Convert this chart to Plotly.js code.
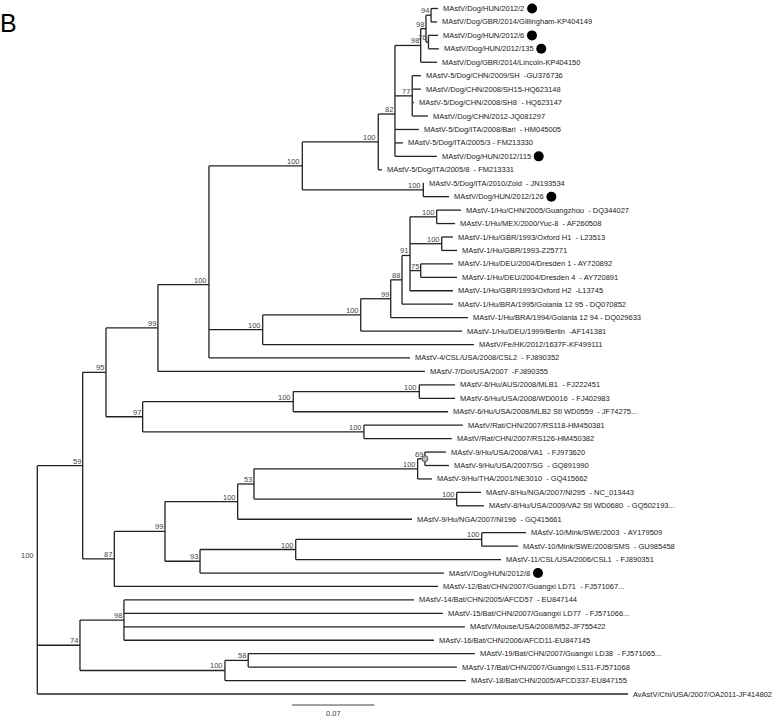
<!DOCTYPE html>
<html>
<head>
<meta charset="utf-8">
<script src="https://cdn.plot.ly/plotly-3.0.1.min.js"></script>
<style>html,body{margin:0;padding:0;background:#fff}</style>
</head>
<body>
<div id="chart" style="width:777px;height:719px"></div>
<script>
// ---- DATA ----
const tipLabels = [
"MAstV/Dog/HUN/2012/2",
"MAstV/Dog/GBR/2014/Gillingham-KP404149",
"MAstV/Dog/HUN/2012/6",
"MAstV/Dog/HUN/2012/135",
"MAstV/Dog/GBR/2014/Lincoln-KP404150",
"MAstV-5/Dog/CHN/2009/SH  -GU376736",
"MAstV/Dog/CHN/2008/SH15-HQ623148",
"MAstV-5/Dog/CHN/2008/SH8  - HQ623147",
"MAstV/Dog/CHN/2012-JQ081297",
"MAstV-5/Dog/ITA/2008/Bari  - HM045005",
"MAstV-5/Dog/ITA/2005/3 - FM213330",
"MAstV/Dog/HUN/2012/115",
"MAstV-5/Dog/ITA/2005/8  - FM213331",
"MAstV-5/Dog/ITA/2010/Zoid  - JN193534",
"MAstV/Dog/HUN/2012/126",
"MAstV-1/Hu/CHN/2005/Guangzhou  - DQ344027",
"MAstV-1/Hu/MEX/2000/Yuc-8  - AF260508",
"MAstV-1/Hu/GBR/1993/Oxford H1  - L23513",
"MAstV-1/Hu/GBR/1993-Z25771",
"MAstV-1/Hu/DEU/2004/Dresden 1 - AY720892",
"MAstV-1/Hu/DEU/2004/Dresden 4  - AY720891",
"MAstV-1/Hu/GBR/1993/Oxford H2  -L13745",
"MAstV-1/Hu/BRA/1995/Goiania 12 95 - DQ070852",
"MAstV-1/Hu/BRA/1994/Goiania 12 94 - DQ029633",
"MAstV-1/Hu/DEU/1999/Berlin  -AF141381",
"MAstV/Fe/HK/2012/1637F-KF499111",
"MAstV-4/CSL/USA/2008/CSL2  - FJ890352",
"MAstV-7/Dol/USA/2007  -FJ890355",
"MAstV-6/Hu/AUS/2008/MLB1  - FJ222451",
"MAstV-6/Hu/USA/2008/WD0016  - FJ402983",
"MAstV-6/Hu/USA/2008/MLB2 Stl WD0559  - JF74275...",
"MAstV/Rat/CHN/2007/RS118-HM450381",
"MAstV/Rat/CHN/2007/RS126-HM450382",
"MAstV-9/Hu/USA/2008/VA1  - FJ973620",
"MAstV-9/Hu/USA/2007/SG  - GQ891990",
"MAstV-9/Hu/THA/2001/NE3010  - GQ415662",
"MAstV-8/Hu/NGA/2007/NI295  - NC_013443",
"MAstV-8/Hu/USA/2009/VA2 Stl WD0680  - GQ502193...",
"MAstV-9/Hu/NGA/2007/NI196  - GQ415661",
"MAstV-10/Mink/SWE/2003  - AY179509",
"MAstV-10/Mink/SWE/2008/SMS  - GU985458",
"MAstV-11/CSL/USA/2006/CSL1  - FJ890351",
"MAstV/Dog/HUN/2012/8",
"MAstV-12/Bat/CHN/2007/Guangxi LD71  - FJ571067...",
"MAstV-14/Bat/CHN/2005/AFCD57  - EU847144",
"MAstV-15/Bat/CHN/2007/Guangxi LD77  - FJ571066...",
"MAstV/Mouse/USA/2008/M52-JF755422",
"MAstV-16/Bat/CHN/2006/AFCD11-EU847145",
"MAstV-19/Bat/CHN/2007/Guangxi LD38  - FJ571065...",
"MAstV-17/Bat/CHN/2007/Guangxi LS11-FJ571068",
"MAstV-18/Bat/CHN/2005/AFCD337-EU847155",
"AvAstV/Chi/USA/2007/OA2011-JF414802"
];
// parent internal node of each tip
const tipParent = [10,10,11,11,8,12,12,12,12,7,7,7,6,13,13,19,19,20,20,21,21,18,17,16,15,14,4,3,24,24,23,25,25,31,31,30,32,32,28,35,35,34,33,26,37,37,37,37,39,39,38,0];
// terminal branch lengths (substitutions/site)
const tipBranch = [0.0060,0.0051,0.0081,0.0089,0.0139,0.0074,0.0074,0.0014,0.0134,0.0204,0.0068,0.0357,0.0031,0.0005,0.0219,0.0207,0.0156,0.0096,0.0130,0.0275,0.0309,0.0366,0.0434,0.0657,0.0862,0.1797,0.1710,0.2271,0.0304,0.0304,0.1316,0.0842,0.0748,0.0179,0.0204,0.0122,0.0207,0.0232,0.1483,0.0377,0.0309,0.1746,0.2075,0.2753,0.2467,0.2713,0.2900,0.2637,0.1928,0.1775,0.2050,0.5024];
// internal nodes: parent, branch length, bootstrap support
const nodeParent = [-1,0,1,2,3,4,5,6,7,8,9,9,7,5,4,14,15,16,17,18,18,18,2,22,23,22,1,26,27,28,29,30,29,27,33,34,0,36,36,38];
const nodeBranch = [0,0.0386,0.0198,0.0442,0.0434,0.0794,0.0646,0.0142,0.0219,0.0045,0.0043,0.0021,0.0147,0.1029,0.0457,0.0834,0.0255,0.0096,0.0068,0.0227,0.0270,0.0091,0.0312,0.1281,0.1072,0.1882,0.0269,0.0431,0.0618,0.0139,0.1392,0.0062,0.1724,0.0298,0.0814,0.1582,0.0363,0.0374,0.1233,0.0198];
const nodeSupport = [100,59,95,99,100,100,100,82,98,98,94,76,77,100,100,100,99,88,91,100,100,75,97,100,100,100,87,99,100,53,100,69,100,93,100,100,74,98,100,58];
// tips marked with a black dot (study strains)
const markedTips = [0,2,3,11,14,42];
// node marked with a grey circle
const circledNodes = [31];
const scaleBarLength = 0.07;
const scaleBarLabel = "0.07";
const panelLetter = "B";

// ---- LAYOUT CONSTANTS ----
const W = 777, H = 719;
const xRange = [-0.03173, 0.62916];
const yRange = [52.86, -0.632];
const pxPerX = W / (xRange[1] - xRange[0]);
const scaleBarX0 = 0.2167, scaleBarY = 51.82, scaleLabelY = 52.45;
const labelFont = '7.5px "Liberation Sans"';
const lineColor = '#222';

// ---- TREE GEOMETRY ----
const nN = nodeParent.length, nT = tipLabels.length;
const nodeX = new Array(nN).fill(0);
for (let i = 1; i < nN; i++) nodeX[i] = nodeX[nodeParent[i]] + nodeBranch[i];
const tipX = tipBranch.map((b, i) => nodeX[tipParent[i]] + b);
const tipY = tipLabels.map((_, i) => i);
const childYs = Array.from({length: nN}, () => []);
tipParent.forEach((p, i) => childYs[p].push(tipY[i]));
const nodeY = new Array(nN).fill(0);
for (let i = nN - 1; i >= 0; i--) {
  const ys = childYs[i];
  nodeY[i] = ys.reduce((a, b) => a + b, 0) / ys.length;
  if (nodeParent[i] >= 0) childYs[nodeParent[i]].push(nodeY[i]);
}

const lx = [], ly = [];
for (let i = 1; i < nN; i++) { lx.push(nodeX[nodeParent[i]], nodeX[i], null); ly.push(nodeY[i], nodeY[i], null); }
for (let i = 0; i < nT; i++) { lx.push(nodeX[tipParent[i]], tipX[i], null); ly.push(tipY[i], tipY[i], null); }
for (let i = 0; i < nN; i++) { const ys = childYs[i]; lx.push(nodeX[i], nodeX[i], null); ly.push(Math.min(...ys), Math.max(...ys), null); }

const annotations = [];
tipLabels.forEach((t, i) => annotations.push({
  x: tipX[i], y: tipY[i], text: t, showarrow: false, xanchor: 'left', yanchor: 'middle',
  xshift: 3, font: {family: 'Liberation Sans, Arial', size: 7.5, color: '#222'}
}));
nodeSupport.forEach((s, i) => {
  if (i === 0) {
    const ys = childYs[0].slice().sort((a, b) => a - b);
    annotations.push({x: nodeX[0], y: (ys[0] + ys[1]) / 2, text: String(s), showarrow: false,
      xanchor: 'right', yanchor: 'middle', xshift: -1,
      font: {family: 'Liberation Sans, Arial', size: 7.5, color: '#444'}});
  } else {
    annotations.push({x: nodeX[i], y: nodeY[i], text: String(s), showarrow: false,
      xanchor: 'right', yanchor: 'bottom', xshift: 0, yshift: -2,
      font: {family: 'Liberation Sans, Arial', size: 7.5, color: '#444'}});
  }
});
annotations.push({x: scaleBarX0 + scaleBarLength / 2, y: scaleLabelY, text: scaleBarLabel, showarrow: false,
  xanchor: 'center', yanchor: 'middle', font: {family: 'Liberation Sans, Arial', size: 7.5, color: '#444'}});
annotations.push({xref: 'paper', yref: 'paper', x: 0, y: 1, text: panelLetter, showarrow: false,
  xanchor: 'left', yanchor: 'top', xshift: -2, yshift: -7, font: {family: 'Liberation Sans, Arial', size: 25, color: '#000'}});

// dots after labels: measure text width
const ctx = document.createElement('canvas').getContext('2d');
ctx.font = labelFont;
const dotX = markedTips.map(i => tipX[i] + (5 + ctx.measureText(tipLabels[i]).width + 7.7) / pxPerX);
const dotY = markedTips.map(i => tipY[i]);

const traces = [
  {x: lx, y: ly, mode: 'lines', line: {color: lineColor, width: 1.3}, hoverinfo: 'skip'},
  {x: [scaleBarX0, scaleBarX0 + scaleBarLength], y: [scaleBarY, scaleBarY], mode: 'lines', line: {color: '#444', width: 1}, hoverinfo: 'skip'},
  {x: dotX, y: dotY, mode: 'markers', marker: {size: 10, color: '#000'}, hoverinfo: 'skip'},
  {x: circledNodes.map(i => nodeX[i]), y: circledNodes.map(i => nodeY[i]), mode: 'markers',
   marker: {size: 6, color: '#bbb', line: {color: '#555', width: 1}}, hoverinfo: 'skip'}
];

const layout = {
  width: W, height: H, margin: {l: 0, r: 0, t: 0, b: 0},
  paper_bgcolor: '#fff', plot_bgcolor: '#fff', showlegend: false,
  xaxis: {range: xRange, visible: false, fixedrange: true},
  yaxis: {range: yRange, visible: false, fixedrange: true},
  annotations: annotations
};
Plotly.newPlot('chart', traces, layout, {displayModeBar: false, staticPlot: true});
</script>
</body>
</html>
